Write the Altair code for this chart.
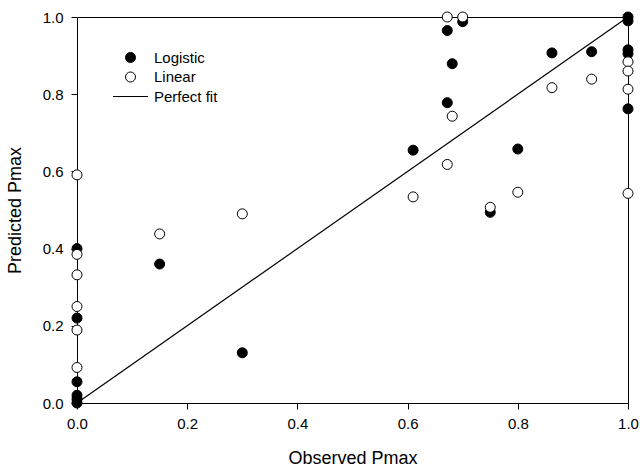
import altair as alt
import pandas as pd

# Observed vs predicted Pmax
logistic_x = [0.0, 0.0, 0.0, 0.0, 0.0, 0.0, 0.15, 0.30, 0.61, 0.672, 0.672, 0.681, 0.70,
              0.75, 0.80, 0.862, 0.934, 1.0, 1.0, 1.0, 1.0, 1.0]
logistic_y = [0.40, 0.22, 0.055, 0.02, 0.01, 0.0, 0.36, 0.13, 0.655, 0.965, 0.778, 0.879, 0.988,
              0.494, 0.658, 0.907, 0.910, 1.0, 0.99, 0.915, 0.905, 0.762]

linear_x = [0.0, 0.0, 0.0, 0.0, 0.0, 0.0, 0.15, 0.30, 0.61, 0.672, 0.672, 0.681, 0.70,
            0.75, 0.80, 0.862, 0.934, 1.0, 1.0, 1.0, 1.0]
linear_y = [0.591, 0.385, 0.332, 0.25, 0.189, 0.092, 0.438, 0.49, 0.534, 1.0, 0.618, 0.743, 1.0,
            0.507, 0.546, 0.817, 0.839, 0.884, 0.86, 0.813, 0.543]

fit_x = [0.0, 1.0]
fit_y = [0.0, 1.0]

series_names = ["Logistic", "Linear", "Perfect fit"]
tick_values = [0.0, 0.2, 0.4, 0.6, 0.8, 1.0]

pts = pd.DataFrame({
    "obs": logistic_x + linear_x,
    "pred": logistic_y + linear_y,
    "series": ["Logistic"] * len(logistic_x) + ["Linear"] * len(linear_x),
})
fit = pd.DataFrame({"obs": fit_x, "pred": fit_y})

FONT = "Liberation Sans"

xscale = alt.Scale(domain=[0, 1], nice=False, zero=False)
yscale = alt.Scale(domain=[0, 1], nice=False, zero=False)

xaxis = alt.Axis(values=tick_values, format=".1f", title="Observed Pmax", grid=False,
                 tickSize=6, labelPadding=7, titlePadding=18, labelFlush=False)
yaxis = alt.Axis(values=tick_values, format=".1f", title="Predicted Pmax", grid=False,
                 tickSize=6, labelPadding=8, titlePadding=18, labelFlush=False)

legend = alt.Legend(title=None, orient="none", legendX=46, legendY=33,
                    labelFont=FONT, labelFontSize=15, labelColor="black",
                    symbolStrokeColor="black", symbolStrokeWidth=1, symbolSize=100,
                    labelOffset=16, rowPadding=3.5)

fit_line = alt.Chart(fit).mark_line(color="black", strokeWidth=1.2).encode(
    x=alt.X("obs:Q", scale=xscale, axis=xaxis),
    y=alt.Y("pred:Q", scale=yscale, axis=yaxis),
)

points = alt.Chart(pts).mark_point(shape="circle", strokeWidth=1, size=100,
                                   opacity=1, fillOpacity=1).encode(
    x=alt.X("obs:Q", scale=xscale, axis=xaxis),
    y=alt.Y("pred:Q", scale=yscale, axis=yaxis),
    fill=alt.Fill("series:N", scale=alt.Scale(domain=series_names,
                                              range=["black", "white", "transparent"]),
                  legend=legend),
    stroke=alt.Stroke("series:N", scale=alt.Scale(domain=series_names,
                                                  range=["black", "black", "black"]),
                      legend=legend),
    shape=alt.Shape("series:N", scale=alt.Scale(domain=series_names,
                                                range=["circle", "circle", "M-3.5,0H3.5"]),
                    legend=legend),
)

chart = alt.layer(fit_line, points).properties(
    width=551, height=386,
    background="white",
    autosize=alt.AutoSizeParams(type="none"),
    padding={"left": 77, "top": 17, "right": 14, "bottom": 64},
).configure_view(
    stroke="black", strokeWidth=1
).configure_axis(
    domainColor="black", tickColor="black", labelColor="black", titleColor="black",
    labelFont=FONT, titleFont=FONT, labelFontSize=15, titleFontSize=18,
    titleFontWeight="normal", domainWidth=1, tickWidth=1,
)

chart.save("out.html", embed_options={"renderer": "svg", "actions": False})
